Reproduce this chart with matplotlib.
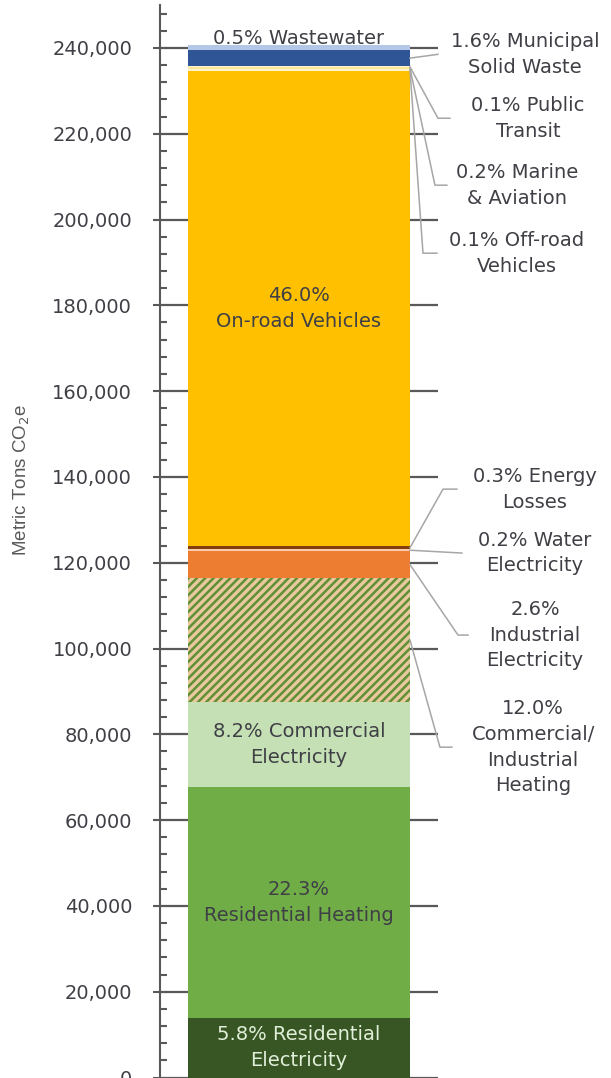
import matplotlib
matplotlib.use('Agg')
import matplotlib.pyplot as plt
from matplotlib.ticker import MultipleLocator, FuncFormatter
import numpy as np

# ---------------- data ----------------
categories = ['Residential Electricity', 'Residential Heating', 'Commercial Electricity',
              'Commercial/Industrial Heating', 'Industrial Electricity', 'Water Electricity',
              'Energy Losses', 'On-road Vehicles', 'Off-road Vehicles', 'Marine & Aviation',
              'Public Transit', 'Municipal Solid Waste', 'Wastewater']
emissions = [13980, 53740, 19760, 28920, 6270, 480, 720, 110860, 240, 480, 240, 3860, 1200]
labels = ['5.8% Residential\nElectricity', '22.3%\nResidential Heating', '8.2% Commercial\nElectricity',
          '12.0%\nCommercial/\nIndustrial\nHeating', '2.6%\nIndustrial\nElectricity',
          '0.2% Water\nElectricity', '0.3% Energy\nLosses', '46.0%\nOn-road Vehicles',
          '0.1% Off-road\nVehicles', '0.2% Marine\n& Aviation', '0.1% Public\nTransit',
          '1.6% Municipal\nSolid Waste', '0.5% Wastewater']
y_ticks = [0, 20000, 40000, 60000, 80000, 100000, 120000, 140000, 160000, 180000, 200000, 220000, 240000]
y_label = 'Metric Tons CO$_2$e'

# ---------------- style ----------------
colors = ['#375623', '#70AD47', '#C5E0B4', '#E9C89E', '#ED7D31', '#F8CBAD', '#843C0C',
          '#FFC000', '#FFF2CC', '#FFE699', '#FFF2CC', '#2F5597', '#B4C7E7']
TXT = '#3F3F46'
GRID = '#595959'
LEAD = '#A6A6A6'
FS = 14
LS = 1.45

plt.rcParams['hatch.linewidth'] = 1.8
plt.rcParams['font.family'] = ['DejaVu Sans']

fig = plt.figure(figsize=(6.11, 10.78), dpi=100)
W, H = 611, 1078
ax = fig.add_axes([160 / W, 0.5 / H, 278 / W, 1072.5 / H])
ax.set_xlim(0, 1)
ax.set_ylim(0, 250000)

bar_x, bar_w = 0.1007, 0.7986
bar_r = bar_x + bar_w
bar_c = bar_x + bar_w / 2

vals = np.array(emissions, dtype=float)
bottoms = np.concatenate([[0], np.cumsum(vals)[:-1]])
mids = bottoms + vals / 2

for i, cat in enumerate(categories):
    if cat == 'Commercial/Industrial Heating':
        ax.bar(bar_x, vals[i], bar_w, bottom=bottoms[i], align='edge', facecolor=colors[i],
               edgecolor='#5F9036', hatch='////', linewidth=0, zorder=3)
    else:
        ax.bar(bar_x, vals[i], bar_w, bottom=bottoms[i], align='edge', color=colors[i],
               linewidth=0, zorder=3)

# axes styling
for s in ['top', 'right', 'bottom']:
    ax.spines[s].set_visible(False)
ax.spines['left'].set_color(GRID)
ax.spines['left'].set_linewidth(1.5)
ax.set_xticks([])
ax.set_yticks(y_ticks)
ax.yaxis.set_minor_locator(MultipleLocator(4000))
ax.yaxis.set_major_formatter(FuncFormatter(lambda v, p: f'{int(v):,}'))
ax.tick_params(axis='y', which='major', direction='out', length=5, width=1.5, color=GRID,
               pad=15, labelsize=FS, labelcolor=TXT)
ax.tick_params(axis='y', which='minor', direction='in', length=5, width=1.5, color=GRID)
ax.yaxis.grid(True, which='major', color=GRID, linewidth=1.6, zorder=0)
ax.set_axisbelow(True)

fig.text(22 / W, 1 - 480 / H, y_label, rotation=90, ha='center', va='center',
         fontsize=13.5, color=GRID, family=['Liberation Sans', 'DejaVu Sans'])

# labels inside the bar
inside = {'Residential Electricity': '#E2EFDA', 'Residential Heating': TXT,
          'Commercial Electricity': TXT, 'On-road Vehicles': TXT}
for i, cat in enumerate(categories):
    if cat in inside:
        ax.text(bar_c, mids[i], labels[i], ha='center', va='center', fontsize=FS,
                color=inside[cat], linespacing=LS, zorder=5)

# wastewater label just above the bar top
iw = categories.index('Wastewater')
ax.text(bar_c, bottoms[iw] + vals[iw] + 1400, labels[iw], ha='center', va='center',
        fontsize=FS, color=TXT, zorder=5)

# labels to the right with leader lines: (elbow x, shelf end x, label y, label x)
right = {
    'Municipal Solid Waste': (1.0, None, 238500, 1.313),
    'Public Transit': (1.0, 1.043, 223600, 1.324),
    'Marine & Aviation': (0.989, 1.032, 208000, 1.284),
    'Off-road Vehicles': (0.946, 0.996, 192150, 1.284),
    'Energy Losses': (1.018, 1.068, 137150, 1.349),
    'Water Electricity': (1.086, None, 122250, 1.349),
    'Industrial Electricity': (1.072, 1.108, 103130, 1.349),
    'Commercial/Industrial Heating': (1.007, 1.050, 77000, 1.342),
}
for i, cat in enumerate(categories):
    if cat in right:
        ex, sx, ly, lx = right[cat]
        xs = [bar_r, ex]
        ys = [mids[i], ly]
        if sx is not None:
            xs.append(sx)
            ys.append(ly)
        ax.plot(xs, ys, color=LEAD, lw=1.1, clip_on=False, zorder=4)
        ax.text(lx, ly, labels[i], ha='center', va='center', fontsize=FS, color=TXT,
                linespacing=LS, clip_on=False)

fig.savefig('out.png', dpi=100)
